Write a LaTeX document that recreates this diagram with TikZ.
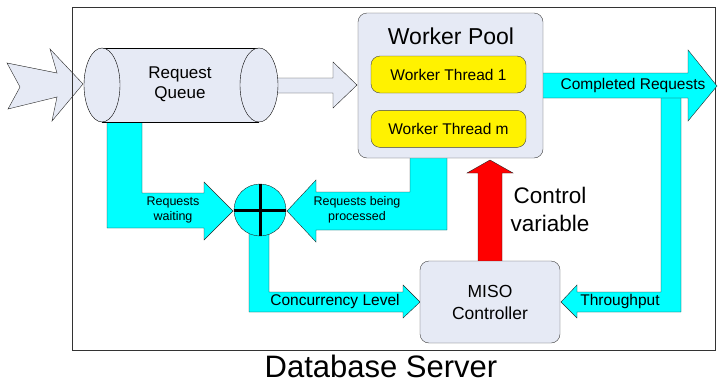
\documentclass[tikz,border=0pt]{standalone}
\usepackage{fontspec}
\setmainfont{Liberation Sans}
\usepackage{tikz}
\usetikzlibrary{positioning}
\definecolor{paleblue}{RGB}{230,234,245}
\definecolor{aqua}{RGB}{0,255,255}

\begin{document}
\begin{tikzpicture}[x=1pt, y=-1pt,
	box/.style={draw=black!75, fill=paleblue, rounded corners=9pt, inner sep=0pt, align=center},
	thread/.style={draw=black!75, fill=yellow, rounded corners=9pt, minimum width=155pt, minimum height=37pt, inner sep=0pt, font=\fontsize{15.5}{18}\selectfont},
	flow/.style={draw=black!85, fill=aqua, line join=miter},
	hollow/.style={draw=black!85, fill=paleblue, line join=miter},
	flowtext/.style={inner sep=0pt, align=center, font=\fontsize{15.5}{18}\selectfont},
	smalltext/.style={inner sep=0pt, align=center, font=\fontsize{12.5}{15}\selectfont}]
	\useasboundingbox (0,0) rectangle (718,383);

	% incoming requests
	\draw[hollow] (7,63) -- (57,73) -- (50,49) -- (83,84) -- (52,121) -- (57,97) -- (8,109) -- (20,87) -- cycle;
	\draw[black!80] (72,7) rectangle (715,350);
	\node[anchor=base, inner sep=0pt, font=\fontsize{31}{36}\selectfont] (server) at (381,377) {Database Server};

	% feedback paths
	\draw[flow] (107,115) -- (107,228) -- (204,228) -- (204,240) -- (233,211) -- (204,182) -- (204,193) -- (142,193) -- (142,115);
	\draw[flow] (447,150) -- (447,230) -- (316,230) -- (316,242) -- (287,211) -- (316,180) -- (316,192) -- (410,192) -- (410,150);
	\draw[flow] (249,225) -- (249,312) -- (403,312) -- (403,318) -- (420,302) -- (403,285) -- (403,292) -- (269,292) -- (269,225);
	\draw[flow] (661,90) -- (661,292) -- (577,292) -- (577,285) -- (561,302) -- (577,318) -- (577,312) -- (681,312) -- (681,90);
	\draw[flow] (543,73) -- (688,73) -- (688,50) -- (717,86) -- (688,121) -- (688,98) -- (543,98);
	\draw[draw=black!85, fill=red, line join=miter] (478,265) -- (478,173) -- (467,173) -- (490,160) -- (513,173) -- (502,173) -- (502,265);
	\draw[hollow] (270,78) -- (333,78) -- (333,62) -- (357,85) -- (333,108) -- (333,93) -- (270,93);

	% request queue
	\fill[paleblue] (102,48) rectangle (259,122);
	\draw (102,48) -- (259,48) (102,122) -- (259,122);
	\draw[fill=paleblue] (102,85) ellipse [x radius=18, y radius=37];
	\draw[fill=paleblue] (259,85) ellipse [x radius=19, y radius=37];
	\node[flowtext, font=\fontsize{17}{20}\selectfont] (queue) at (180,84) {Request\\Queue};

	% worker pool
	\node[box, minimum width=185pt, minimum height=145pt] (pool) at (450.5,85.5) {};
	\node[anchor=base, inner sep=0pt, font=\fontsize{23}{26}\selectfont] (pooltitle) at (451,44) {Worker Pool};
	\node[thread] (thread1) at (448.5,74.5) {Worker Thread 1};
	\node[thread, below=17pt of thread1] (threadm) {Worker Thread m};

	% controller
	\node[box, minimum width=140pt, minimum height=82pt, font=\fontsize{17.5}{22}\selectfont] (miso) at (490,302) {MISO\\Controller};
	\node[circle, draw=black!85, fill=aqua, minimum size=52pt, inner sep=0pt] (sum) at (260,210) {};
	\draw[line width=3pt] (sum.north) -- (sum.south) (sum.west) -- (sum.east);

	% labels
	\node[flowtext] (completed) at (633,85) {Completed Requests};
	\node[flowtext] (throughput) at (620,301) {Throughput};
	\node[flowtext] (concurrency) at (335,301) {Concurrency Level};
	\node[smalltext] (waiting) at (173,210) {Requests\\waiting};
	\node[smalltext] (processed) at (357,210) {Requests being\\processed};
	\node[flowtext, font=\fontsize{22.5}{28}\selectfont] (control) at (550,209) {Control\\variable};
\end{tikzpicture}
\end{document}
